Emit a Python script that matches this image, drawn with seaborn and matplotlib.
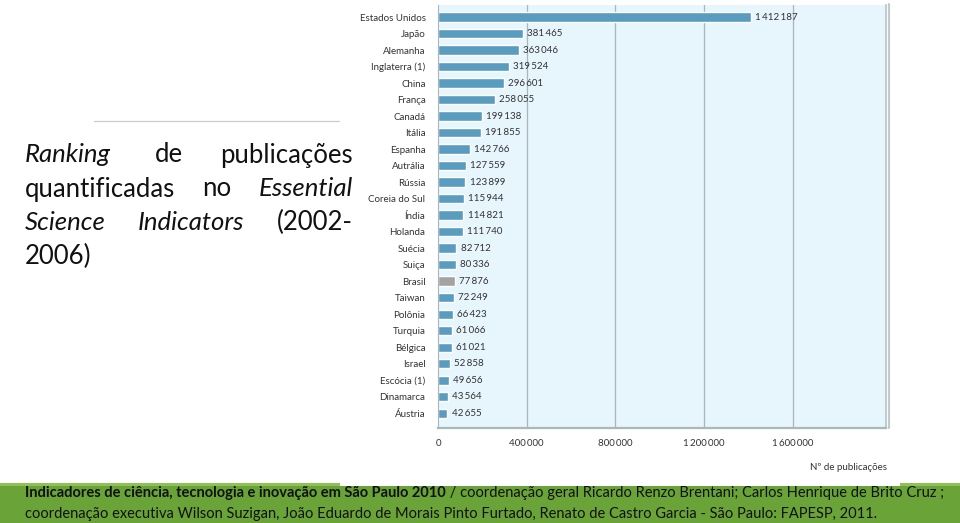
import matplotlib
matplotlib.use("Agg")
import matplotlib.pyplot as plt
import seaborn as sns
import pandas as pd
from matplotlib.patches import Rectangle
from matplotlib.lines import Line2D

countries = ["Estados Unidos", "Japão", "Alemanha", "Inglaterra (1)", "China", "França",
             "Canadá", "Itália", "Espanha", "Autrália", "Rússia", "Coreia do Sul", "Índia",
             "Holanda", "Suécia", "Suiça", "Brasil", "Taiwan", "Polônia", "Turquia",
             "Bélgica", "Israel", "Escócia (1)", "Dinamarca", "Áustria"]
publications = [1412187, 381465, 363046, 319524, 296601, 258055, 199138, 191855, 142766,
                127559, 123899, 115944, 114821, 111740, 82712, 80336, 77876, 72249, 66423,
                61066, 61021, 52858, 49656, 43564, 42655]
highlight = "Brasil"
x_ticks = [0, 400000, 800000, 1200000, 1600000]

sns.set_theme(style="white")
plt.rcParams["font.family"] = ["Lato", "DejaVu Sans"]

df = pd.DataFrame({"country": countries, "pubs": publications})
palette = {c: ("#a3a3a3" if c == highlight else "#5a9cbf") for c in countries}


def fmt(v):
    return f"{v:,.0f}".replace(",", "\u2009")


W, H = 960, 523
fig = plt.figure(figsize=(9.6, 5.23), dpi=100)

# chart area
ax = fig.add_axes([438 / W, 1 - 428 / H, (886 - 438) / W, (428 - 5) / H])
ax.set_facecolor("#e7f5fd")
sns.barplot(data=df, y="country", x="pubs", hue="country", palette=palette,
            legend=False, width=0.56, saturation=1, ax=ax)
for cont in ax.containers:
    ax.bar_label(cont, fmt=fmt, padding=3, fontsize=7, color="#333333")

ax.set_xlim(0, 2020000)
ax.set_ylim(len(countries) - 0.1, -0.73)
ax.set_xticks(x_ticks)
ax.set_xticklabels([fmt(t) for t in x_ticks], fontsize=7, color="#333333")
ax.tick_params(axis="x", length=0, pad=8)
ax.tick_params(axis="y", length=0, pad=9, labelsize=7, labelcolor="#333333")
for t in x_ticks[1:]:
    ax.axvline(t, color="#aab5bc", lw=0.9, zorder=0)
ax.set_xlabel("")
ax.set_ylabel("")
ax.spines["top"].set_visible(False)
ax.spines["left"].set_color("#aab5bc")
ax.spines["left"].set_linewidth(0.8)
ax.spines["bottom"].set_color("#a9b8bd")
ax.spines["bottom"].set_linewidth(1.6)
ax.spines["right"].set_color("#b8c4c6")
ax.spines["right"].set_linewidth(1.2)
fig.add_artist(Line2D([888.5 / W, 888.5 / W], [1 - 428 / H, 1 - 4 / H],
                      color="#c3cccd", lw=1.6))

fig.text(887 / W, 1 - 468 / H, "Nº de publicações", ha="right", va="center",
         fontsize=7, color="#333333")

# title block on the left (justified by hand)
fig.add_artist(Line2D([94 / W, 339 / W], [1 - 121 / H, 1 - 121 / H], color="#cccccc", lw=0.9))
title_words = [
    (25, 155, "Ranking", "left", "italic"), (155, 155, "de", "left", "normal"),
    (353, 155, "publicações", "right", "normal"),
    (25, 189, "quantificadas", "left", "normal"), (202, 189, "no", "left", "normal"),
    (353, 189, "Essential", "right", "italic"),
    (25, 222, "Science", "left", "italic"), (138, 222, "Indicators", "left", "italic"),
    (353, 222, "(2002-", "right", "normal"),
    (25, 256, "2006)", "left", "normal"),
]
for x, y, w, ha, st in title_words:
    fig.text(x / W, 1 - y / H, w, ha=ha, va="center", fontsize=18.5, style=st, color="#111111")

# green source band
fig.add_artist(Rectangle((0, 0), 1, 37 / H, transform=fig.transFigure,
                         facecolor="#6aa337", edgecolor="none", zorder=0))
for x0, x1 in [(0, 340), (900, 960)]:
    fig.add_artist(Rectangle((x0 / W, 37 / H), (x1 - x0) / W, 3 / H, transform=fig.transFigure,
                             facecolor="#8fc155", edgecolor="none", zorder=0))

cap_size = 10.5
bold = fig.text(25 / W, 1 - 493 / H,
                "Indicadores de ciência, tecnologia e inovação em São Paulo 2010",
                fontsize=cap_size, weight="bold", va="center", color="#111111")
fig.canvas.draw()
bb = bold.get_window_extent()
fig.text(bb.x1 / W, 1 - 493 / H,
         " / coordenação geral Ricardo Renzo Brentani; Carlos Henrique de Brito Cruz ;",
         fontsize=cap_size, va="center", color="#111111")
fig.text(25 / W, 1 - 514 / H,
         "coordenação executiva Wilson Suzigan, João Eduardo de Morais Pinto Furtado, "
         "Renato de Castro Garcia - São Paulo: FAPESP, 2011.",
         fontsize=cap_size, va="center", color="#111111")

fig.savefig("out.png", dpi=100)
